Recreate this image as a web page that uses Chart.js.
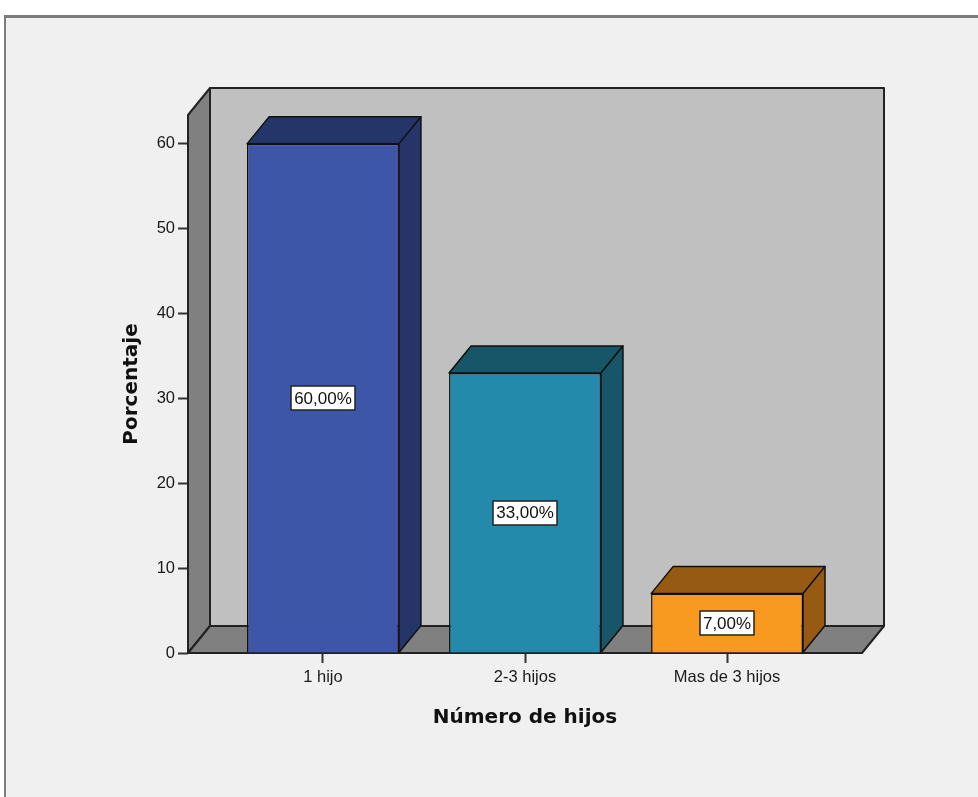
<!DOCTYPE html>
<html lang="es">
<head>
  <meta charset="UTF-8">
  <title>Número de hijos</title>
  <script src="https://cdn.jsdelivr.net/npm/chart.js"></script>
  <style>
    body { margin: 0; background: #fff; }
    .wrap { position: relative; width: 978px; height: 797px; overflow: hidden; }
    .frame { position: absolute; left: 4px; top: 15px; width: 990px; height: 800px;
             background: #f0f0f0; border-top: 3px solid #7c7c7c; border-left: 2px solid #7c7c7c; }
    canvas { position: absolute; left: 0; top: 0; }
  </style>
</head>
<body>
<div class="wrap">
  <div class="frame"></div>
  <canvas id="chart" width="978" height="797"></canvas>
</div>

<script>
  // data
  const categories = ['1 hijo', '2-3 hijos', 'Mas de 3 hijos'];
  const porcentajes = [60, 33, 7];
  const yTicks = [0, 10, 20, 30, 40, 50, 60];

  const frontColors = ['#3d56a8', '#238aab', '#f89a1f'];
  const darkColors = ['#25356a', '#175568', '#965a12'];

  const DX = 22, DY = 27;   // 3d depth

  function poly(ctx, pts, fill, stroke, lw) {
    ctx.beginPath();
    ctx.moveTo(pts[0][0], pts[0][1]);
    for (let i = 1; i < pts.length; i++) ctx.lineTo(pts[i][0], pts[i][1]);
    ctx.closePath();
    ctx.fillStyle = fill;
    ctx.fill();
    ctx.lineWidth = lw;
    ctx.strokeStyle = stroke;
    ctx.lineJoin = 'round';
    ctx.stroke();
  }

  const box3d = {
    id: 'box3d',
    beforeDatasetsDraw(chart) {
      const ctx = chart.ctx;
      const a = chart.chartArea;
      ctx.save();
      // back wall
      poly(ctx, [[a.left + DX, a.top - DY], [a.right + DX, a.top - DY], [a.right + DX, a.bottom - DY], [a.left + DX, a.bottom - DY]], '#c0c0c0', '#222', 2);
      // left wall
      poly(ctx, [[a.left, a.bottom], [a.left, a.top], [a.left + DX, a.top - DY], [a.left + DX, a.bottom - DY]], '#808080', '#222', 2);
      // floor
      poly(ctx, [[a.left, a.bottom], [a.right, a.bottom], [a.right + DX, a.bottom - DY], [a.left + DX, a.bottom - DY]], '#808080', '#222', 2);
      ctx.restore();
    },
    afterDatasetsDraw(chart) {
      const ctx = chart.ctx;
      const meta = chart.getDatasetMeta(0);
      ctx.save();
      meta.data.forEach((el, i) => {
        const x1 = el.x - el.width / 2, x2 = el.x + el.width / 2;
        const yt = el.y, yb = el.base;
        // top face
        poly(ctx, [[x1, yt], [x1 + DX, yt - DY], [x2 + DX, yt - DY], [x2, yt]], darkColors[i], '#111', 1.5);
        // side face
        poly(ctx, [[x2, yt], [x2 + DX, yt - DY], [x2 + DX, yb - DY], [x2, yb]], darkColors[i], '#111', 1.5);
        // value label
        const txt = porcentajes[i].toFixed(2).replace('.', ',') + '%';
        ctx.font = '17px "Liberation Sans", Arial, sans-serif';
        const w = ctx.measureText(txt).width + 6;
        const h = 24;
        const cy = (yt + yb) / 2;
        ctx.fillStyle = '#fff';
        ctx.fillRect(Math.round(el.x - w / 2), Math.round(cy - h / 2), Math.round(w), h);
        ctx.lineWidth = 1.5;
        ctx.strokeStyle = '#222';
        ctx.strokeRect(Math.round(el.x - w / 2), Math.round(cy - h / 2), Math.round(w), h);
        ctx.fillStyle = '#111';
        ctx.textAlign = 'center';
        ctx.textBaseline = 'middle';
        ctx.fillText(txt, el.x, cy + 1);
      });
      ctx.restore();
    }
  };

  new Chart(document.getElementById('chart'), {
    type: 'bar',
    data: {
      datasets: [{
        data: porcentajes.map((v, i) => ({ x: i, y: v })),
        backgroundColor: frontColors,
        borderColor: '#111',
        borderWidth: 1.5,
        barPercentage: 0.752,
        categoryPercentage: 1
      }]
    },
    options: {
      responsive: false,
      animation: false,
      devicePixelRatio: 1,
      layout: { padding: { top: 115, right: 116, left: 0, bottom: 0 } },
      plugins: { legend: { display: false }, tooltip: { enabled: false } },
      scales: {
        x: {
          type: 'linear',
          min: -0.668,
          max: 2.668,
          offset: false,
          afterBuildTicks: (axis) => { axis.ticks = categories.map((c, i) => ({ value: i })); },
          afterFit: (axis) => { axis.height = 144; },
          grid: { offset: false, drawOnChartArea: false, tickLength: 10, tickColor: '#333', tickWidth: 2 },
          border: { display: false },
          ticks: {
            autoSkip: false,
            maxRotation: 0,
            padding: 5,
            color: '#1a1a1a',
            font: { family: '"Liberation Sans", Arial, sans-serif', size: 16.5 },
            callback: (v) => categories[v]
          },
          title: {
            display: true,
            text: 'Número de hijos',
            color: '#111',
            padding: { top: 0, bottom: 67 },
            font: { family: '"DejaVu Sans", Verdana, sans-serif', size: 20, weight: 'bold' }
          }
        },
        y: {
          min: 0,
          max: 63.4,
          afterBuildTicks: (axis) => { axis.ticks = yTicks.map(v => ({ value: v })); },
          afterFit: (axis) => { axis.width = 188; },
          grid: { drawOnChartArea: false, tickLength: 10, tickColor: '#333', tickWidth: 2 },
          border: { display: false },
          ticks: {
            padding: 3,
            color: '#1a1a1a',
            font: { family: '"Liberation Sans", Arial, sans-serif', size: 16.5 }
          },
          title: {
            display: true,
            text: 'Porcentaje',
            color: '#111',
            padding: { top: 120, bottom: 0 },
            font: { family: '"DejaVu Sans", Verdana, sans-serif', size: 20, weight: 'bold' }
          }
        }
      }
    },
    plugins: [box3d]
  });
</script>
</body>
</html>
